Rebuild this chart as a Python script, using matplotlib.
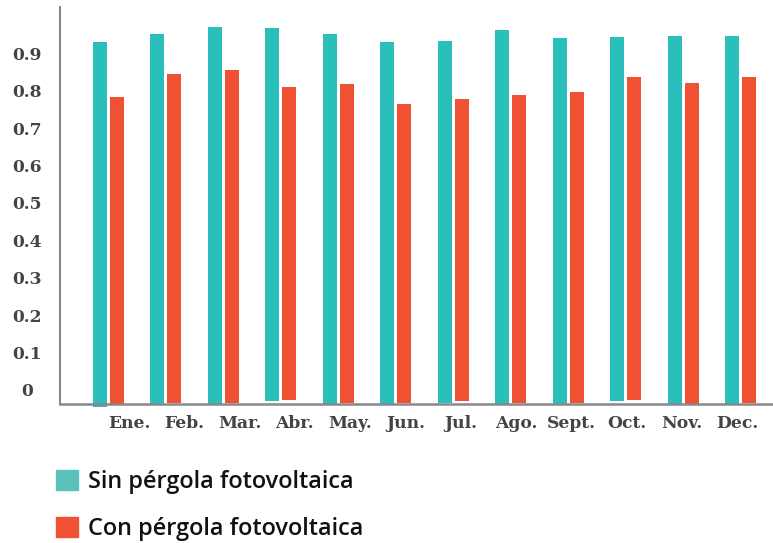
import numpy as np
import matplotlib.pyplot as plt
from matplotlib.patches import Patch

# data
months = ['Ene.', 'Feb.', 'Mar.', 'Abr.', 'May.', 'Jun.', 'Jul.', 'Ago.', 'Sept.', 'Oct.', 'Nov.', 'Dec.']
sin_top = [0.930, 0.952, 0.971, 0.968, 0.952, 0.930, 0.933, 0.963, 0.941, 0.944, 0.947, 0.947]
sin_bottom = [-0.045, -0.038, -0.038, -0.031, -0.038, -0.038, -0.034, -0.038, -0.038, -0.029, -0.042, -0.038]
con_top = [0.783, 0.845, 0.856, 0.810, 0.818, 0.765, 0.778, 0.789, 0.797, 0.837, 0.821, 0.837]
con_bottom = [-0.038, -0.034, -0.034, -0.027, -0.034, -0.034, -0.031, -0.034, -0.034, -0.026, -0.038, -0.034]
yticks = [0, 0.1, 0.2, 0.3, 0.4, 0.5, 0.6, 0.7, 0.8, 0.9]
ytick_labels = ['0', '0.1', '0.2', '0.3', '0.4', '0.5', '0.6', '0.7', '0.8', '0.9']
series = ['Sin pérgola fotovoltaica', 'Con pérgola fotovoltaica']

TEAL = '#2bbfbb'
RED = '#f05133'

fig = plt.figure(figsize=(7.73, 5.43), dpi=100)
ax = fig.add_axes([60 / 773, 139 / 543, 713 / 773, 397 / 543])

x = np.arange(len(months))
w = 0.243
off = 0.148
sin_h = np.array(sin_top) - np.array(sin_bottom)
con_h = np.array(con_top) - np.array(con_bottom)
ax.bar(x - off, sin_h, w, bottom=sin_bottom, color=TEAL, clip_on=False, zorder=2)
ax.bar(x + off, con_h, w, bottom=con_bottom, color=RED, clip_on=False, zorder=2)

ax.set_xlim(-0.843, 11.557)
ax.set_ylim(-0.038, 1.024)

for s in ['top', 'right']:
    ax.spines[s].set_visible(False)
ax.spines['left'].set_color('#777777')
ax.spines['left'].set_linewidth(1.3)
ax.spines['bottom'].set_color('#888888')
ax.spines['bottom'].set_linewidth(1.8)
ax.spines['bottom'].set_zorder(3)

fnt = dict(family='DejaVu Serif', weight='bold', size=12.3, color='#444444')
ax.set_yticks(yticks)
ax.set_yticklabels(ytick_labels, ha='center', **fnt)
ax.tick_params(axis='y', length=0, pad=24)

# month labels are spaced a bit tighter than the bars
lab_pos = (129 + 55.3 * x - 108.5) / 57.5
ax.set_xticks(lab_pos)
ax.set_xticklabels(months, **fnt)
ax.tick_params(axis='x', length=0, pad=8)

handles = [Patch(color='#5bc1bd'), Patch(color=RED)]
fig.legend(handles, series, loc='upper left', bbox_to_anchor=(56 / 773, 1 - 470 / 543),
           frameon=False, handlelength=0.94, handleheight=0.94, handletextpad=0.42,
           labelspacing=0.99, borderaxespad=0, borderpad=0,
           prop=dict(family='Open Sans', weight='semibold', size=16.9))
for t in fig.legends[0].get_texts():
    t.set_color('#111111')

fig.savefig('out.png', dpi=100)
